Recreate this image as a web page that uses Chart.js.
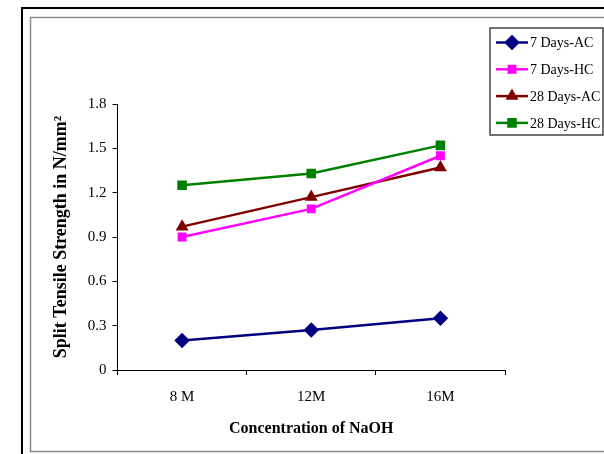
<!DOCTYPE html>
<html>
  <head>
    <title>Split Tensile Strength</title>
    <script src="https://cdn.jsdelivr.net/npm/chart.js"></script>
    <style>
      html, body { margin: 0; padding: 0; background: #fff; }
      #wrap { width: 604px; height: 454px; }
    </style>
  </head>
  <body>
    <div id="wrap"><canvas id="myChart" width="604" height="454"></canvas></div>

    <script>
      const concentrations = ["8 M", "12M", "16M"];
      const days7AC = [0.2, 0.27, 0.35];
      const days7HC = [0.9, 1.09, 1.45];
      const days28AC = [0.97, 1.17, 1.37];
      const days28HC = [1.25, 1.33, 1.52];
      const yTicks = [0, 0.3, 0.6, 0.9, 1.2, 1.5, 1.8];

      const serif = "'Liberation Serif', 'Times New Roman', serif";

      // outer double frame around the whole figure
      const framePlugin = {
        id: "frame",
        beforeDraw(chart) {
          const c = chart.ctx;
          c.save();
          c.fillStyle = "#fff";
          c.fillRect(0, 0, chart.width, chart.height);
          c.strokeStyle = "#000";
          c.lineWidth = 2;
          c.beginPath();
          c.moveTo(22, 460);
          c.lineTo(22, 8);
          c.lineTo(610, 8);
          c.stroke();
          c.strokeStyle = "#8a8a8a";
          c.lineWidth = 1.5;
          c.beginPath();
          c.moveTo(610, 17.5);
          c.lineTo(30.5, 17.5);
          c.lineTo(30.5, 451.5);
          c.lineTo(610, 451.5);
          c.stroke();
          c.restore();
        },
      };

      // boxed legend in the top right corner
      const legendBox = {
        id: "legendBox",
        afterDraw(chart) {
          const c = chart.ctx;
          c.save();
          c.strokeStyle = "#444";
          c.lineWidth = 1.5;
          c.strokeRect(490, 28, 113, 107);
          c.font = "14px " + serif;
          c.textBaseline = "middle";
          c.textAlign = "left";
          chart.data.datasets.forEach((ds, i) => {
            const y = 42.5 + i * 26.8;
            c.strokeStyle = ds.borderColor;
            c.lineWidth = 2.5;
            c.beginPath();
            c.moveTo(496, y);
            c.lineTo(528, y);
            c.stroke();
            Chart.helpers.drawPoint(c, {
              pointStyle: ds.pointStyle,
              radius: ds.pointRadius,
              rotation: 0,
              borderWidth: 1,
            }, 512, y);
            c.fillStyle = ds.borderColor;
            c.fill();
            c.fillStyle = "#000";
            c.fillText(ds.label, 530, y + 1);
          });
          c.restore();
        },
      };

      const line = (label, data, color, style, radius) => ({
        label: label,
        data: data,
        borderColor: color,
        backgroundColor: color,
        pointBackgroundColor: color,
        pointBorderColor: color,
        pointStyle: style,
        pointRadius: radius,
        borderWidth: 2.5,
        tension: 0,
      });

      const ctx = document.getElementById("myChart").getContext("2d");
      const myChart = new Chart(ctx, {
        type: "line",
        data: {
          labels: concentrations,
          datasets: [
            line("7 Days-AC", days7AC, "#000080", "rectRot", 6),
            line("7 Days-HC", days7HC, "#ff00ff", "rect", 4.5),
            line("28 Days-AC", days28AC, "#800000", "triangle", 5),
            line("28 Days-HC", days28HC, "#008000", "rect", 5),
          ],
        },
        options: {
          responsive: false,
          animation: false,
          layout: { padding: { left: 30, top: 104, right: 99, bottom: 0 } },
          plugins: {
            legend: { display: false },
            tooltip: { enabled: false },
          },
          scales: {
            x: {
              offset: true,
              grid: {
                offset: true,
                drawOnChartArea: false,
                tickLength: 5,
                color: "#000",
              },
              border: { color: "#000", width: 1 },
              ticks: {
                color: "#000",
                font: { family: serif, size: 15 },
                padding: 13,
              },
              title: {
                display: true,
                text: "Concentration of NaOH",
                color: "#000",
                font: { family: serif, size: 16, weight: "bold" },
                padding: { top: 0, bottom: 16 },
              },
              afterFit: (s) => { s.height = 84; },
            },
            y: {
              min: 0,
              max: 1.8,
              afterBuildTicks: (s) => { s.ticks = yTicks.map((v) => ({ value: v })); },
              grid: {
                drawOnChartArea: false,
                tickLength: 5,
                color: "#000",
              },
              border: { color: "#000", width: 1 },
              ticks: {
                color: "#000",
                font: { family: serif, size: 15 },
                padding: 6,
              },
              title: {
                display: true,
                text: "Split Tensile Strength in N/mm\u00b2",
                color: "#000",
                font: { family: serif, size: 18, weight: "bold" },
                padding: { top: 21, bottom: 0 },
              },
              afterFit: (s) => { s.width = 87.5; },
            },
          },
        },
        plugins: [framePlugin, legendBox],
      });
    </script>
  </body>
</html>
